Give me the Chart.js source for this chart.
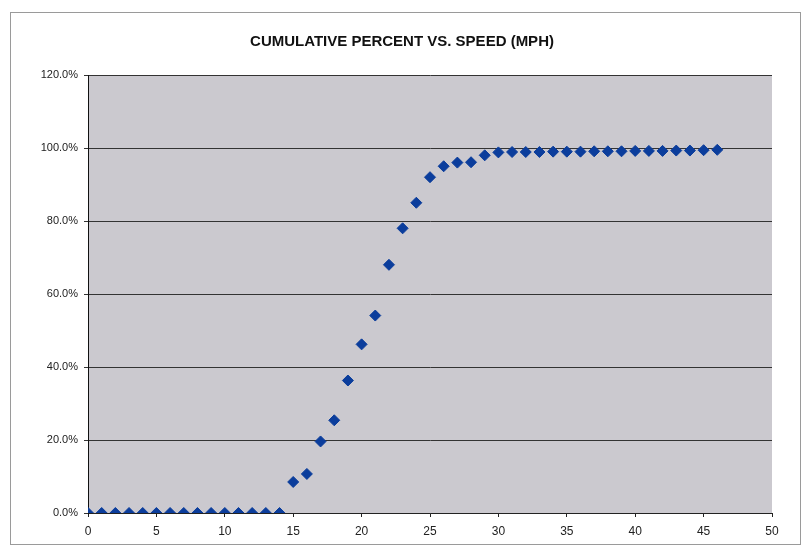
<!DOCTYPE html>
<html>
<head>
<meta charset="utf-8">
<script src="https://cdn.jsdelivr.net/npm/chart.js@4/dist/chart.umd.min.js"></script>
<style>
  html, body { margin: 0; padding: 0; background: #fff; }
  #wrap { width: 804px; height: 554px; position: relative; }
</style>
</head>
<body>
<div id="wrap"><canvas id="speedChart" width="804" height="554"></canvas></div>
<script>
const SPEEDS = [0, 1, 2, 3, 4, 5, 6, 7, 8, 9, 10, 11, 12, 13, 14, 15, 16, 17, 18, 19, 20, 21, 22, 23,
  24, 25, 26, 27, 28, 29, 30, 31, 32, 33, 34, 35, 36, 37, 38, 39, 40, 41, 42, 43, 44, 45, 46];
const CUM_PERCENT = [0, 0, 0, 0, 0, 0, 0, 0, 0, 0, 0, 0, 0, 0, 0, 8.5, 10.7, 19.6, 25.4, 36.3, 46.2, 54.1, 68.0, 78.0,
  85.0, 92.0, 95.0, 96.0, 96.1, 98.0, 98.8, 98.9, 98.9, 98.9, 99.0, 99.0, 99.0, 99.1, 99.1, 99.1, 99.2, 99.2, 99.2, 99.3, 99.3, 99.4, 99.5];
const Y_TICKS = [0, 20, 40, 60, 80, 100, 120];

const plotBackground = {
  id: 'plotBackground',
  beforeDraw(chart) {
    const { ctx, chartArea: a } = chart;
    ctx.save();
    ctx.strokeStyle = '#9a9a9a';
    ctx.lineWidth = 1;
    ctx.strokeRect(10.5, 12.5, 790, 532);
    ctx.fillStyle = '#cbc9cf';
    ctx.fillRect(a.left, a.top, a.right - a.left, a.bottom - a.top);
    ctx.restore();
  },
};

new Chart(document.getElementById('speedChart'), {
  type: 'scatter',
  data: {
    datasets: [{
      data: SPEEDS.map((s, i) => ({ x: s, y: CUM_PERCENT[i] })),
      pointStyle: 'rectRot',
      pointRadius: 5.5,
      backgroundColor: '#0b3d9c',
      borderColor: '#0b3d9c',
      showLine: false,
    }],
  },
  options: {
    responsive: false,
    animation: false,
    layout: { padding: 0 },
    plugins: {
      legend: { display: false },
      tooltip: { enabled: false },
      title: {
        display: true,
        text: 'CUMULATIVE PERCENT VS. SPEED (MPH)',
        color: '#111',
        font: { family: 'Liberation Sans, Arial, sans-serif', size: 15, weight: 'bold' },
        padding: { top: 33, bottom: 24 },
      },
    },
    scales: {
      x: {
        type: 'linear',
        min: 0,
        max: 50,
        ticks: { stepSize: 5, color: '#222', font: { family: 'Liberation Sans, Arial, sans-serif', size: 12 }, padding: 7 },
        grid: { drawOnChartArea: false, drawTicks: true, tickLength: 4, color: '#222' },
        border: { color: '#222', width: 1 },
        afterFit(scale) { scale.height = 41; },
      },
      y: {
        min: 0,
        max: 120,
        afterBuildTicks(scale) { scale.ticks = Y_TICKS.map(v => ({ value: v })); },
        ticks: {
          color: '#222',
          font: { family: 'Liberation Sans, Arial, sans-serif', size: 11 },
          callback: v => v.toFixed(1) + '%',
          padding: 6,
        },
        grid: { color: '#333', lineWidth: 1, drawTicks: true, tickLength: 4 },
        border: { color: '#111', width: 1 },
        afterFit(scale) { scale.width = 88; },
      },
      // empty right-hand gutter so the title centres over the whole frame
      yRight: {
        position: 'right',
        min: 0,
        max: 120,
        ticks: { display: false },
        grid: { display: false },
        border: { display: false },
        afterFit(scale) { scale.width = 32; },
      },
    },
  },
  plugins: [plotBackground],
});
</script>
</body>
</html>
